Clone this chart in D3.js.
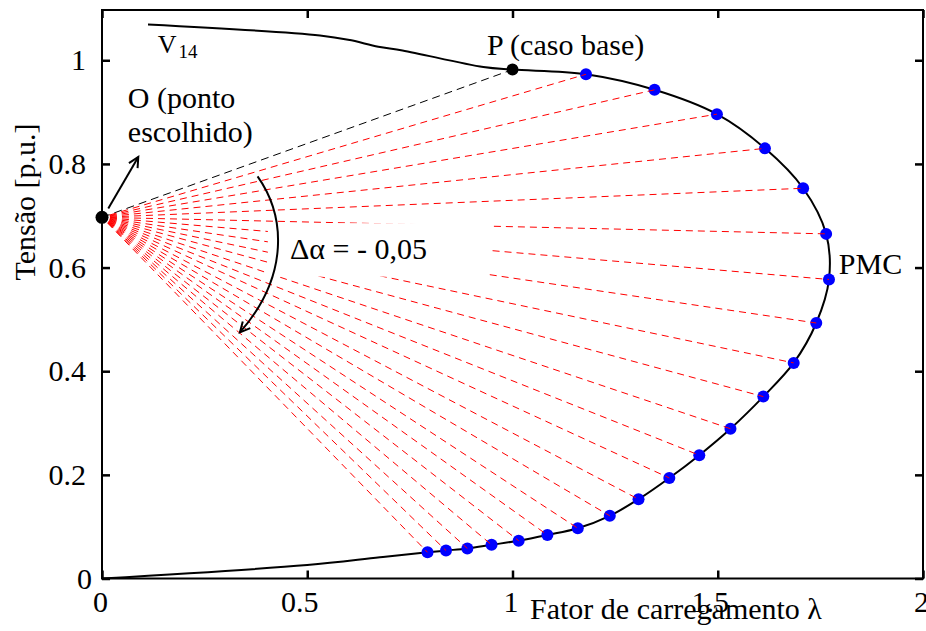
<!DOCTYPE html>
<html><head><meta charset="utf-8">
<script src="https://cdn.jsdelivr.net/npm/d3@7"></script>
<style>
body{margin:0;background:#fff;}
svg text{font-family:"Liberation Serif","Tinos","Times New Roman","Nimbus Roman","DejaVu Serif",serif !important;fill:#000;}
</style>
</head><body>
<svg id="chart" width="926" height="631"></svg>
<script>
// PV curve (black solid line): loading factor lambda and voltage V14
const curveLambda = [0.112, 0.531, 0.604, 0.673, 0.732, 0.929, 1.000,
  1.179, 1.346, 1.498, 1.615, 1.708, 1.764, 1.771, 1.740, 1.685, 1.611, 1.531, 1.455,
  1.382, 1.307, 1.237, 1.159, 1.085, 1.015, 0.949, 0.890, 0.838, 0.793,
  0.677, 0.500, 0.000];
const curveV = [1.069, 1.048, 1.039, 1.026, 1.019, 0.987, 0.982,
  0.973, 0.943, 0.896, 0.830, 0.753, 0.665, 0.577, 0.493, 0.416, 0.351, 0.289, 0.238,
  0.194, 0.153, 0.121, 0.097, 0.084, 0.073, 0.065, 0.058, 0.054, 0.0505,
  0.041, 0.026, 0.000];
// Blue points (solutions found along the fan of directions)
const pointLambda = [1.179, 1.346, 1.498, 1.615, 1.708, 1.764, 1.771, 1.740, 1.685, 1.611, 1.531,
  1.455, 1.382, 1.307, 1.237, 1.159, 1.085, 1.015, 0.949, 0.890, 0.838, 0.793];
const pointV = [0.973, 0.943, 0.896, 0.830, 0.753, 0.665, 0.577, 0.493, 0.416, 0.351, 0.289,
  0.238, 0.194, 0.153, 0.121, 0.097, 0.084, 0.073, 0.065, 0.058, 0.054, 0.0505];
// Special points
const originPoint = [0.0, 0.697];   // O (ponto escolhido)
const basePoint = [1.0, 0.982];     // P (caso base)
// Axes
const xTicks = [0, 0.5, 1, 1.5, 2];
const yTicks = [0, 0.2, 0.4, 0.6, 0.8, 1];
const xDomain = [0, 2];
const yDomain = [0, 1.097];
const xTitle = "Fator de carregamento λ";
const yTitle = "Tensão [p.u.]";
// Annotations (data units)
const labelP = {text: "P (caso base)", at: [0.938, 1.0096]};
const labelPMC = {text: "PMC", at: [1.795, 0.587]};
const labelO = {lines: ["O (ponto", "escolhido)"], at: [[0.063, 0.907], [0.063, 0.842]]};
const labelV = {main: "V", sub: "14", at: [0.136, 1.0135]};
const labelDelta = {text: "Δα = - 0,05", at: [0.458, 0.616], box: [[0.404, 0.943], [0.5825, 0.6856]]};
const arrowO = [[0.0153, 0.714], [0.0884, 0.8135]];
const arrowDelta = [[0.379, 0.776], [0.446, 0.701], [0.458, 0.585], [0.336, 0.475]];

const FONT = '"Liberation Serif","Tinos","Times New Roman","Nimbus Roman","DejaVu Serif",serif';
const svg = d3.select("#chart");
const W = 926, H = 631;
const x = d3.scaleLinear().domain(xDomain).range([102, 923]);
const y = d3.scaleLinear().domain(yDomain).range([578.5, 10]);

svg.append("rect").attr("width", W).attr("height", H).attr("fill", "#fff");

const defs = svg.append("defs");
defs.append("marker").attr("id", "head").attr("markerUnits", "userSpaceOnUse")
  .attr("viewBox", "-12 -7 14 14").attr("refX", 0).attr("refY", 0)
  .attr("markerWidth", 14).attr("markerHeight", 14).attr("orient", "auto")
  .append("path").attr("d", "M-10,-5 L0,0 L-10,5").attr("fill", "none")
  .attr("stroke", "#000").attr("stroke-width", 2);

// PV curve
const curveData = curveLambda.map((l, i) => [l, curveV[i]]);
svg.append("path").datum(curveData)
  .attr("d", d3.line().x(d => x(d[0])).y(d => y(d[1])).curve(d3.curveCatmullRom.alpha(0.5)))
  .attr("fill", "none").attr("stroke", "#000").attr("stroke-width", 2);

// Blue points
const pts = pointLambda.map((l, i) => [l, pointV[i]]);
svg.append("g").selectAll("circle").data(pts).join("circle")
  .attr("cx", d => x(d[0])).attr("cy", d => y(d[1])).attr("r", 6).attr("fill", "#0000ff");

// Fan of dashed lines
svg.append("line")
  .attr("x1", x(originPoint[0])).attr("y1", y(originPoint[1]))
  .attr("x2", x(basePoint[0])).attr("y2", y(basePoint[1]))
  .attr("stroke", "#000").attr("stroke-width", 1).attr("stroke-dasharray", "8,5");
svg.append("g").selectAll("line").data(pts).join("line")
  .attr("x1", x(originPoint[0])).attr("y1", y(originPoint[1]))
  .attr("x2", d => x(d[0])).attr("y2", d => y(d[1]))
  .attr("stroke", "#ff0000").attr("stroke-width", 1).attr("stroke-dasharray", "7,5")
  .attr("stroke-dashoffset", 4);

// White box behind the delta label
const bx = labelDelta.box;
svg.append("rect")
  .attr("x", x(bx[0][0])).attr("y", y(bx[1][1]))
  .attr("width", x(bx[0][1]) - x(bx[0][0])).attr("height", y(bx[1][0]) - y(bx[1][1]))
  .attr("fill", "#fff");

// O and P dots
svg.append("circle").attr("cx", x(originPoint[0])).attr("cy", y(originPoint[1])).attr("r", 6.5).attr("fill", "#000");
svg.append("circle").attr("cx", x(basePoint[0])).attr("cy", y(basePoint[1])).attr("r", 6).attr("fill", "#000");

// Axes (ticks inward on all sides)
const tickStyle = g => { g.attr("font-family", FONT); g.select(".domain").remove(); g.selectAll(".tick line").attr("stroke", "#000").attr("stroke-width", 2.5); };
const gx = svg.append("g").attr("transform", `translate(0,${y(0)})`)
  .call(d3.axisBottom(x).tickValues(xTicks).tickFormat(d3.format("")).tickSize(-8).tickPadding(12));
tickStyle(gx);
gx.selectAll(".tick text").attr("font-size", 30).attr("font-family", FONT)
  .attr("fill", "#000").attr("dx", d => (String(d).length > 1 ? -8 : -2));
const gy = svg.append("g").attr("transform", `translate(${x(0)},0)`)
  .call(d3.axisLeft(y).tickValues(yTicks).tickFormat(d3.format("")).tickSize(-8).tickPadding(16));
tickStyle(gy);
gy.selectAll(".tick text").attr("font-size", 30).attr("font-family", FONT)
  .attr("fill", "#000").attr("x", d => (d === 0 ? -10 : -16));
const gt = svg.append("g").attr("transform", `translate(0,${y(yDomain[1])})`)
  .call(d3.axisTop(x).tickValues(xTicks).tickFormat("").tickSize(-8));
tickStyle(gt);
const gr = svg.append("g").attr("transform", `translate(${x(2)},0)`)
  .call(d3.axisRight(y).tickValues(yTicks).tickFormat("").tickSize(-8));
tickStyle(gr);

svg.append("rect").attr("x", x(0)).attr("y", y(yDomain[1]))
  .attr("width", x(2) - x(0)).attr("height", y(0) - y(yDomain[1]))
  .attr("fill", "none").attr("stroke", "#000").attr("stroke-width", 2);

// Axis titles
const T = (sel) => sel.attr("font-family", FONT);
T(svg.append("text")).attr("x", 530).attr("y", 619).attr("font-size", 30).text(xTitle);
T(svg.append("text")).attr("transform", "translate(35,202) rotate(-90)")
  .attr("text-anchor", "middle").attr("font-size", 30).text(yTitle);

// Annotations
T(svg.append("text")).attr("x", x(labelP.at[0])).attr("y", y(labelP.at[1])).attr("font-size", 30).text(labelP.text);
T(svg.append("text")).attr("x", x(labelPMC.at[0])).attr("y", y(labelPMC.at[1])).attr("font-size", 30).text(labelPMC.text);
labelO.lines.forEach((t, i) => {
  T(svg.append("text")).attr("x", x(labelO.at[i][0])).attr("y", y(labelO.at[i][1])).attr("font-size", 30).text(t);
});
const vt = T(svg.append("text")).attr("x", x(labelV.at[0])).attr("y", y(labelV.at[1])).attr("font-size", 26);
vt.append("tspan").text(labelV.main);
vt.append("tspan").attr("font-size", 19).attr("dx", 2).attr("dy", 5).text(labelV.sub);
T(svg.append("text")).attr("x", x(labelDelta.at[0])).attr("y", y(labelDelta.at[1])).attr("font-size", 30).text(labelDelta.text);

// Arrows
svg.append("line")
  .attr("x1", x(arrowO[0][0])).attr("y1", y(arrowO[0][1]))
  .attr("x2", x(arrowO[1][0])).attr("y2", y(arrowO[1][1]))
  .attr("stroke", "#000").attr("stroke-width", 2).attr("marker-end", "url(#head)");
const ad = arrowDelta.map(p => [x(p[0]), y(p[1])]);
const cp = d3.path();
cp.moveTo(ad[0][0], ad[0][1]);
cp.bezierCurveTo(ad[1][0], ad[1][1], ad[2][0], ad[2][1], ad[3][0], ad[3][1]);
svg.append("path").attr("d", cp.toString()).attr("fill", "none")
  .attr("stroke", "#000").attr("stroke-width", 2).attr("marker-end", "url(#head)");
</script>
</body></html>
